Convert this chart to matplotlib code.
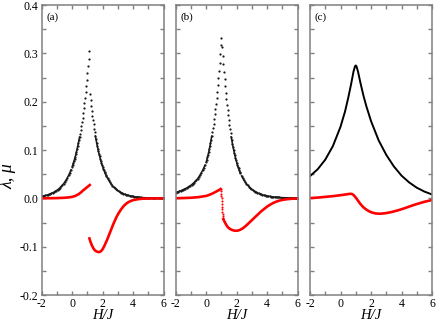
import numpy as np
import matplotlib
matplotlib.use("Agg")
import matplotlib.pyplot as plt
from matplotlib.ticker import MultipleLocator, FormatStrFormatter

plt.rcParams["font.family"] = ["Liberation Serif", "DejaVu Serif"]
plt.rcParams["axes.unicode_minus"] = False

# ---------------- panel (a) ----------------
# lambda (black dots); left branch up to the cusp, right branch after it
lam_a_left_coarse = [0.0042, 0.0047, 0.0053, 0.0059, 0.0066, 0.0073, 0.0082, 0.0091,
                     0.0102, 0.0114, 0.0127, 0.0142, 0.0158, 0.0177, 0.0197, 0.0220,
                     0.0245, 0.0274, 0.0305, 0.0341, 0.0380, 0.0424, 0.0473, 0.0528, 0.0590]
lam_a_left_fine = [0.0658, 0.0694, 0.0733, 0.0775, 0.0819, 0.0865, 0.0913, 0.0965, 0.102,
                   0.108, 0.114, 0.120, 0.127, 0.134, 0.142, 0.150, 0.158, 0.167, 0.176,
                   0.186, 0.197, 0.208, 0.220, 0.232, 0.245, 0.259, 0.273, 0.289, 0.305]
lam_a_right_fine = [0.215, 0.203, 0.192, 0.181, 0.171, 0.162, 0.153, 0.144, 0.137, 0.129,
                    0.122, 0.115, 0.109, 0.103, 0.097, 0.0917, 0.0867, 0.0819, 0.0774,
                    0.0731, 0.0690, 0.0652, 0.0616, 0.0582, 0.0550, 0.0520, 0.0491]
lam_a_right_coarse = [0.0464, 0.0414, 0.0369, 0.0330, 0.0295, 0.0263, 0.0235, 0.0210,
                      0.0187, 0.0167, 0.0149, 0.0133, 0.0119, 0.0106, 0.0095, 0.0085,
                      0.0075, 0.0067, 0.0060, 0.0054, 0.0048, 0.0043, 0.0038, 0.0034,
                      0.0030, 0.0027, 0.0024, 0.0022, 0.0019, 0.0017, 0.0015, 0.0014,
                      0.0012, 0.0011, 0.0010, 0.0009, 0.0008, 0.0007, 0.0006, 0.0006,
                      0.0005, 0.0005, 0.0004, 0.0004, 0.0003, 0.0003, 0.0003, 0.0002]
# mu (red)
h_a_mu_left = [-2.0, -1.5, -1.0, -0.5, -0.25, 0.0, 0.2, 0.4, 0.5, 0.6, 0.7, 0.8, 0.9, 1.0, 1.1, 1.15]
mu_a_left = [0.0, 0.0002, 0.0005, 0.0012, 0.0019, 0.0030, 0.0050, 0.0082, 0.0105, 0.0130,
             0.0160, 0.0185, 0.0210, 0.0237, 0.0262, 0.0275]
h_a_mu_right = [1.13, 1.2, 1.3, 1.4, 1.5, 1.6, 1.7, 1.8, 1.9, 2.0, 2.1, 2.2, 2.3, 2.4, 2.5,
                2.6, 2.7, 2.8, 2.9, 3.0, 3.2, 3.4, 3.6, 3.8, 4.0, 4.3, 4.6, 5.0, 5.5, 6.0]
mu_a_right = [-0.083, -0.090, -0.098, -0.104, -0.108, -0.110, -0.111, -0.111, -0.109, -0.105,
              -0.099, -0.092, -0.085, -0.077, -0.069, -0.061, -0.053, -0.046, -0.039, -0.033,
              -0.023, -0.015, -0.0095, -0.0060, -0.0037, -0.0018, -0.0008, -0.0003, -0.0001, 0.0]

# ---------------- panel (b) ----------------
lam_b_left_coarse = [0.0120, 0.0128, 0.0137, 0.0146, 0.0156, 0.0166, 0.0177, 0.0189, 0.0202,
                     0.0215, 0.0230, 0.0245, 0.0262, 0.0282, 0.0304, 0.0327, 0.0352, 0.0379,
                     0.0408, 0.0445, 0.0486, 0.0530, 0.0578, 0.0631, 0.0688]
lam_b_left_fine = [0.0750, 0.0796, 0.0846, 0.0898, 0.0953, 0.1012, 0.1075, 0.1141, 0.1212,
                   0.1287, 0.1366, 0.1451, 0.1540, 0.1636, 0.1737, 0.1844, 0.1958, 0.2079,
                   0.2208, 0.2344, 0.2489, 0.2643, 0.2806, 0.2980, 0.3164, 0.332]
lam_b_right_fine = [0.3127, 0.2945, 0.2773, 0.2612, 0.2460, 0.2317, 0.2182, 0.2055, 0.1935,
                    0.1823, 0.1717, 0.1617, 0.1523, 0.1434, 0.1350, 0.1272, 0.1198, 0.1128,
                    0.1062, 0.1000, 0.0942, 0.0887, 0.0836, 0.0787, 0.0741, 0.0698, 0.0658,
                    0.0619, 0.0583, 0.0549, 0.0517]
lam_b_right_coarse = [0.0464, 0.0417, 0.0374, 0.0336, 0.0301, 0.0270, 0.0243, 0.0218, 0.0196,
                      0.0176, 0.0158, 0.0141, 0.0127, 0.0114, 0.0102, 0.0092, 0.0082, 0.0074,
                      0.0066, 0.0059, 0.0053, 0.0048, 0.0044, 0.0040, 0.0036, 0.0033, 0.0030,
                      0.0027, 0.0025, 0.0022, 0.0020, 0.0019, 0.0017, 0.0015, 0.0014, 0.0013,
                      0.0012, 0.0011, 0.0010, 0.0009, 0.0009, 0.0008, 0.0007, 0.0007, 0.0006,
                      0.0006, 0.0006]
h_b_mu_left = [-2.0, -1.5, -1.0, -0.5, 0.0, 0.2, 0.4, 0.5, 0.6, 0.7, 0.8, 0.88, 0.94]
mu_b_left = [0.0003, 0.0006, 0.0012, 0.0025, 0.0050, 0.0072, 0.0098, 0.0115, 0.0130, 0.0148,
             0.0165, 0.0180, 0.0192]
h_b_mu_jump = [0.96, 0.98, 0.99, 1.00, 1.01, 1.02, 1.03, 1.04, 1.05, 1.06, 1.07, 1.08, 1.10]
mu_b_jump = [0.0190, 0.0150, 0.0100, 0.0050, 0.0000, -0.0050, -0.0110, -0.0170, -0.0230,
             -0.0285, -0.0330, -0.0370, -0.0410]
h_b_mu_right = [1.12, 1.2, 1.3, 1.4, 1.5, 1.6, 1.7, 1.8, 1.9, 2.0, 2.1, 2.2, 2.4, 2.6, 2.8,
                3.0, 3.2, 3.4, 3.6, 3.8, 4.0, 4.2, 4.4, 4.6, 4.8, 5.0, 5.3, 5.6, 6.0]
mu_b_right = [-0.043, -0.048, -0.054, -0.059, -0.062, -0.064, -0.0655, -0.0665, -0.067, -0.067,
              -0.0665, -0.0655, -0.062, -0.057, -0.051, -0.045, -0.039, -0.033, -0.027, -0.022,
              -0.017, -0.013, -0.0095, -0.0068, -0.0047, -0.0032, -0.0018, -0.0009, -0.0003]

# ---------------- panel (c) ----------------
h_c_lam = [-2.0, -1.5, -1.0, -0.5, 0.0, 0.3, 0.5, 0.7, 0.85, 0.95, 1.0, 1.05, 1.15, 1.3, 1.5,
           1.7, 2.0, 2.5, 3.0, 3.5, 4.0, 4.5, 5.0, 5.5, 6.0]
lam_c = [0.046, 0.060, 0.080, 0.108, 0.148, 0.180, 0.207, 0.237, 0.262, 0.273, 0.275, 0.273,
         0.262, 0.240, 0.213, 0.190, 0.160, 0.120, 0.090, 0.066, 0.047, 0.033, 0.022, 0.014, 0.008]
h_c_mu = [-2.0, -1.5, -1.0, -0.5, 0.0, 0.3, 0.5, 0.65, 0.75, 0.85, 0.95, 1.05, 1.15, 1.3, 1.5,
          1.7, 1.9, 2.1, 2.3, 2.5, 2.7, 3.0, 3.4, 3.8, 4.2, 4.6, 5.0, 5.5, 6.0]
mu_c = [0.0005, 0.0015, 0.0030, 0.0045, 0.0065, 0.0078, 0.0088, 0.0094, 0.0090, 0.0070, 0.0035,
        -0.0005, -0.0050, -0.0115, -0.0185, -0.0235, -0.0272, -0.0297, -0.0312, -0.0318, -0.0316,
        -0.0305, -0.0280, -0.0245, -0.0205, -0.0160, -0.0118, -0.0072, -0.0035]

panel_labels = ["(a)", "(b)", "(c)"]


def branch(h0, h1, vals):
    return np.linspace(h0, h1, len(vals)), np.array(vals)


def dotted_branch(ax, h0, h1, vals):
    # dense dots; where they merge (small lambda) back them with a thin line
    h, v = branch(h0, h1, vals)
    ax.plot(h, np.where(v < 0.13, v, np.nan), color="#1a1a1a", lw=1.1)
    ax.plot(h, v, ls="none", marker="o", ms=1.6, mew=0, color="#1a1a1a")


frame_grey = "#808080"
fig = plt.figure(figsize=(4.36, 3.21), dpi=100)
lefts = [41.7 / 436, 175.7 / 436, 310 / 436]
axes = [fig.add_axes([l, 26 / 321, 122 / 436, 290 / 321]) for l in lefts]

red_dot = dict(ls="none", marker="o", ms=1.5, mew=0, color="red")

# (a)
ax = axes[0]
for h0, h1, v in [(-2.0, -0.08, lam_a_left_coarse), (0.0, 1.12, lam_a_left_fine),
                  (1.16, 2.20, lam_a_right_fine), (2.24, 6.0, lam_a_right_coarse)]:
    dotted_branch(ax, h0, h1, v)
ax.plot(h_a_mu_left, mu_a_left, color="red", lw=1.9)
ax.plot(h_a_mu_right, mu_a_right, color="red", lw=1.9)

# (b)
ax = axes[1]
for h0, h1, v in [(-2.0, -0.08, lam_b_left_coarse), (0.0, 1.0, lam_b_left_fine),
                  (1.04, 2.24, lam_b_right_fine), (2.32, 6.0, lam_b_right_coarse)]:
    dotted_branch(ax, h0, h1, v)
ax.plot(h_b_mu_left, mu_b_left, color="red", lw=1.9)
ax.plot(h_b_mu_jump, mu_b_jump, **red_dot)
ax.plot(h_b_mu_right, mu_b_right, color="red", lw=1.9)

# (c)
ax = axes[2]
ax.plot(h_c_lam, lam_c, color="black", lw=1.4)
ax.plot(h_c_mu, mu_c, color="red", lw=1.9)

for i, ax in enumerate(axes):
    ax.set_xlim(-2, 6)
    ax.set_ylim(-0.2, 0.4)
    ax.xaxis.set_major_locator(MultipleLocator(2))
    ax.xaxis.set_minor_locator(MultipleLocator(1))
    ax.yaxis.set_major_locator(MultipleLocator(0.1))
    ax.yaxis.set_minor_locator(MultipleLocator(0.05))
    ax.yaxis.set_major_formatter(FormatStrFormatter("%.1f"))
    ax.tick_params(which="both", direction="in", top=True, right=True,
                   color=frame_grey, width=1.0, labelsize=8.5)
    ax.tick_params(which="major", length=3.0, pad=2.5)
    ax.tick_params(which="minor", length=3.0)
    if i > 0:
        ax.tick_params(labelleft=False)
    for s in ax.spines.values():
        s.set_color(frame_grey)
        s.set_linewidth(1.1)
    ax.set_xlabel("H/J", fontsize=10.5, fontstyle="italic", labelpad=-1)
    ax.text(0.04, 0.975, panel_labels[i], transform=ax.transAxes,
            ha="left", va="top", fontsize=8)

fig.text(0.018, 0.45, "λ, μ", rotation=90, ha="center", va="center",
         fontsize=13, fontstyle="italic")

fig.savefig("out.png", dpi=100)
